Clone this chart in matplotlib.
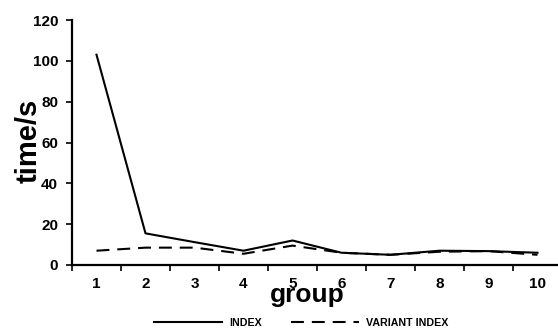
import numpy as np
import matplotlib
matplotlib.use("Agg")
import matplotlib.pyplot as plt

groups = [1, 2, 3, 4, 5, 6, 7, 8, 9, 10]
index_times = [103, 15.5, 11.2, 7, 12, 6, 5, 7, 6.8, 6]
variant_times = [7, 8.5, 8.5, 5.5, 9.5, 6, 5, 6.5, 6.8, 5]

plt.rcParams['font.family'] = ['Liberation Sans', 'DejaVu Sans']
plt.rcParams['font.weight'] = 'bold'

fig = plt.figure(figsize=(5.58, 3.29), dpi=100)
ax = fig.add_axes([72 / 558, 1 - 265 / 329, 490 / 558, 245 / 329])

ax.plot(groups, index_times, color='black', lw=1.5, label='INDEX')
ax.plot(groups, variant_times, color='black', lw=1.5, linestyle=(0, (6.2, 3.8)),
        label='VARIANT INDEX')

ax.set_xlim(0.5, 10.5)
ax.set_ylim(0, 120)
ax.set_yticks(np.arange(0, 121, 20))
ax.set_xticks(groups)
ax.set_xticks(np.arange(0.5, 11, 1), minor=True)
ax.tick_params(axis='x', which='major', length=0, pad=9, labelsize=11)
ax.tick_params(axis='x', which='minor', length=4, width=1.2, direction='out')
ax.tick_params(axis='y', length=4, width=1.2, labelsize=11, pad=6)

for side in ['top', 'right']:
    ax.spines[side].set_visible(False)
for side in ['left', 'bottom']:
    ax.spines[side].set_linewidth(1.6)

fig.text(37 / 558, 1 - 141 / 329, 'time/s', rotation=90, rotation_mode='anchor',
         fontsize=21, fontweight='bold', ha='center', va='baseline')
fig.text(307 / 558, 1 - 302 / 329, 'group', fontsize=19, fontweight='bold',
         ha='center', va='baseline')

leg = fig.legend(loc='center', bbox_to_anchor=(301 / 558, 1 - 323 / 329), ncol=2,
                 frameon=False, fontsize=7.7, handlelength=6.4, columnspacing=2.7,
                 handletextpad=0.65, borderaxespad=0, borderpad=0)

fig.savefig('out.png', dpi=100)
